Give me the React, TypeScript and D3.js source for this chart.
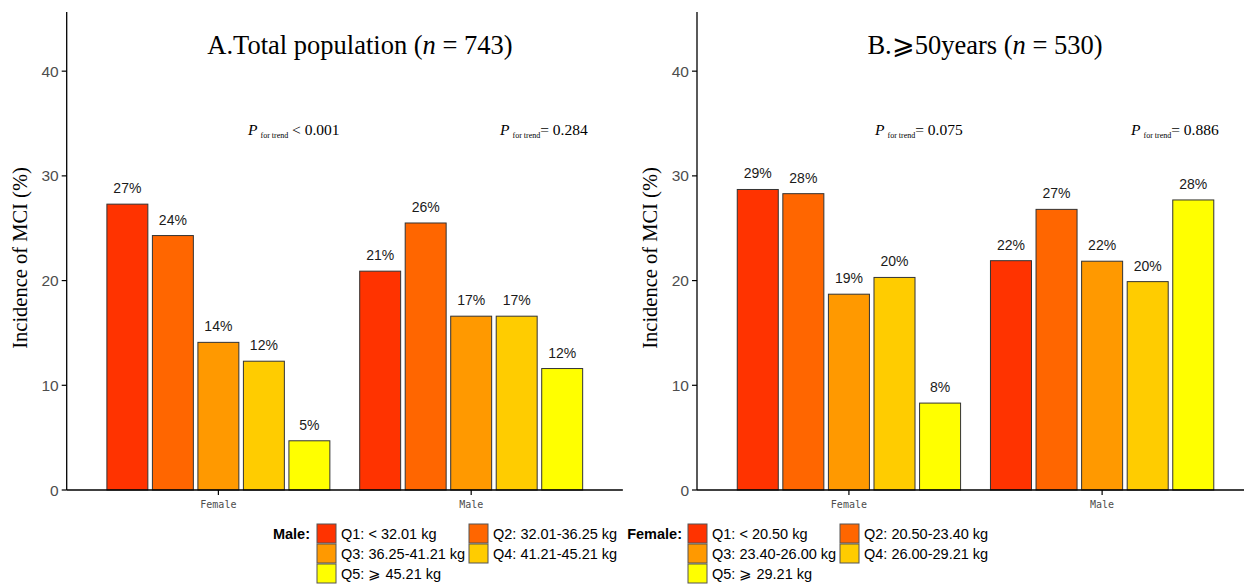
import React from 'react';
import * as d3 from 'd3';

const groups = ['Female', 'Male'];
const quintiles = ['Q1', 'Q2', 'Q3', 'Q4', 'Q5'];
const colors = ['#FF3300', '#FF6600', '#FF9900', '#FFCC00', '#FFFF00'];

const totalFemale = [27.3, 24.3, 14.1, 12.3, 4.7];
const totalMale = [20.9, 25.5, 16.6, 16.6, 11.6];
const olderFemale = [28.7, 28.3, 18.7, 20.3, 8.3];
const olderMale = [21.9, 26.8, 21.85, 19.9, 27.7];

const yTicks = [0, 10, 20, 30, 40];

const maleLegend = ['Q1: < 32.01 kg', 'Q2: 32.01-36.25 kg', 'Q3: 36.25-41.21 kg', 'Q4: 41.21-45.21 kg', 'Q5: \u2A7E 45.21 kg'];
const femaleLegend = ['Q1: < 20.50 kg', 'Q2: 20.50-23.40 kg', 'Q3: 23.40-26.00 kg', 'Q4: 26.00-29.21 kg', 'Q5: \u2A7E 29.21 kg'];

const pTotal = [{ op: '< 0.001', gap: true }, { op: '= 0.284', gap: false }];
const pOlder = [{ op: '= 0.075', gap: false }, { op: '= 0.886', gap: false }];

const SANS = 'Arial, "Liberation Sans", Helvetica, sans-serif';
const SERIF = '"Times New Roman", "Liberation Serif", Times, serif';

const y = d3.scaleLinear().domain([0, 45.65]).range([490, 12]);

type PanelProps = {
  x0: number;
  unit: number;
  female: number[];
  male: number[];
  titleMain: string;
  titleN: string;
  pText: { op: string; gap: boolean }[];
  pX: number[];
  titleX: number;
  labelX: number;
};

function Panel({ x0, unit, female, male, titleMain, titleN, pText, pX, titleX, labelX }: PanelProps) {
  const x1 = x0 + 2.2 * unit;
  const x = d3.scalePoint<string>().domain(groups).range([x0, x1]).padding(0.6);
  const inner = d3
    .scaleBand<string>()
    .domain(quintiles)
    .range([-0.45 * unit, 0.45 * unit])
    .paddingInner(0.1)
    .paddingOuter(0.05);
  const data = [female, male];
  return (
    <g>
      <text x={titleX} y={54} textAnchor="middle" fontFamily={SERIF} fontSize={26.5} fill="#000">
        <tspan>{titleMain} (</tspan>
        <tspan fontStyle="italic">n</tspan>
        <tspan> = {titleN})</tspan>
      </text>
      {pText.map((p, i) => (
        <text key={i} x={pX[i]} y={135} fontFamily={SERIF} fontSize={15.5} fill="#000">
          <tspan fontStyle="italic">P</tspan>
          <tspan fontSize={8} dy={3} dx={3}>for trend</tspan>
          <tspan dy={-3}>{p.gap ? '\u00A0' + p.op : p.op}</tspan>
        </text>
      ))}
      {groups.map((g, gi) =>
        quintiles.map((q, qi) => {
          const v = data[gi][qi];
          const bx = (x(g) as number) + (inner(q) as number);
          return (
            <g key={g + q}>
              <rect
                x={bx}
                y={y(v)}
                width={inner.bandwidth()}
                height={y(0) - y(v)}
                fill={colors[qi]}
                stroke="#333333"
                strokeWidth={1}
              />
              <text
                x={bx + inner.bandwidth() / 2}
                y={y(v) - 11}
                textAnchor="middle"
                fontFamily={SANS}
                fontSize={14}
                fill="#1a1a1a"
              >
                {Math.round(v)}%
              </text>
            </g>
          );
        })
      )}
      <line x1={x0} x2={x0} y1={12} y2={490} stroke="#000" strokeWidth={1.3} />
      <line x1={x0} x2={x1} y1={490} y2={490} stroke="#000" strokeWidth={1.3} />
      {yTicks.map((t) => (
        <g key={t}>
          <line x1={x0 - 5} x2={x0} y1={y(t)} y2={y(t)} stroke="#000" strokeWidth={1.2} />
          <text x={x0 - 8} y={y(t) + 5.5} textAnchor="end" fontFamily={SANS} fontSize={15.5} fill="#4D4D4D">
            {t}
          </text>
        </g>
      ))}
      {groups.map((g) => (
        <g key={g}>
          <line x1={x(g)} x2={x(g)} y1={490} y2={495} stroke="#000" strokeWidth={1.2} />
          <text
            x={x(g)}
            y={508}
            textAnchor="middle"
            fontFamily='"DejaVu Sans Mono", monospace'
            fontSize={10}
            fill="#4D4D4D"
          >
            {g}
          </text>
        </g>
      ))}
      <text
        transform={`translate(${labelX},${258}) rotate(-90)`}
        textAnchor="middle"
        fontFamily={SERIF}
        fontSize={20.5}
        fill="#000"
      >
        Incidence of MCI (%)
      </text>
    </g>
  );
}

function Legend({ title, items, titleRight, keyX, col2X }: { title: string; items: string[]; titleRight: number; keyX: number; col2X: number }) {
  const rowY = [524, 544, 564];
  return (
    <g>
      <text x={titleRight} y={539} textAnchor="end" fontFamily={SANS} fontSize={14.5} fontWeight="bold" fill="#000">
        {title}
      </text>
      {items.map((it, i) => {
        const col = i % 2;
        const row = Math.floor(i / 2);
        const kx = col === 0 ? keyX : col2X;
        return (
          <g key={it}>
            <rect x={kx} y={rowY[row]} width={19} height={19} fill={colors[i]} stroke="#555" strokeWidth={1} />
            <text x={kx + 24} y={rowY[row] + 15} fontFamily={SANS} fontSize={14.5} fill="#000">
              {it}
            </text>
          </g>
        );
      })}
    </g>
  );
}

export default function App() {
  return (
    <svg
      width={1244}
      height={584}
      viewBox="0 0 1244 584"
      style={{ position: 'absolute', left: 0, top: 0, background: '#fff' }}
    >
      <rect x={0} y={0} width={1244} height={584} fill="#fff" />
      <Panel
        x0={66.7}
        unit={252.8}
        female={totalFemale}
        male={totalMale}
        titleMain="A.Total population"
        titleN="743"
        pText={pTotal}
        pX={[248, 500]}
        titleX={360}
        labelX={27}
      />
      <Panel
        x0={697}
        unit={253.2}
        female={olderFemale}
        male={olderMale}
        titleMain={'B.\u2A7E50years'}
        titleN="530"
        pText={pOlder}
        pX={[875, 1131]}
        titleX={985}
        labelX={657}
      />
      <Legend title="Male:" items={maleLegend} titleRight={310} keyX={317} col2X={469} />
      <Legend title="Female:" items={femaleLegend} titleRight={682} keyX={688} col2X={840} />
    </svg>
  );
}
